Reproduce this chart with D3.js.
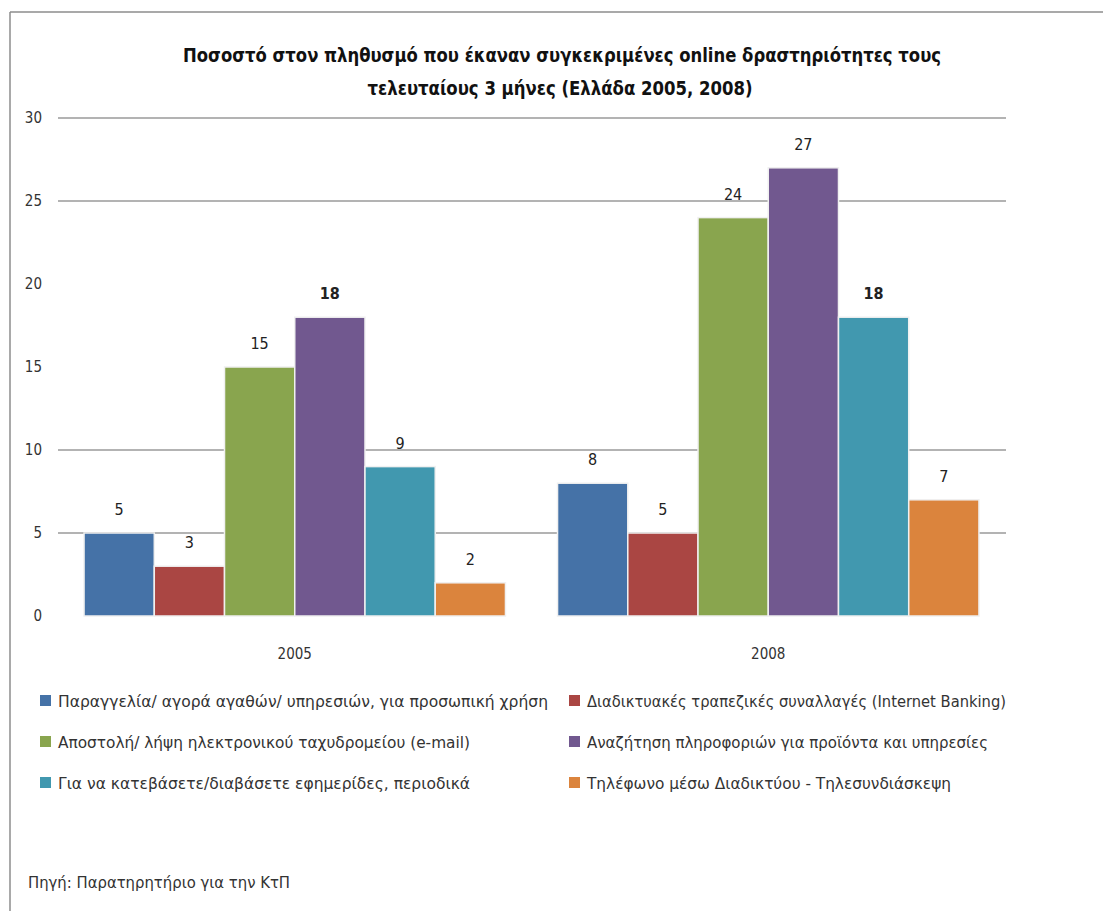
<!DOCTYPE html>
<html>
<head>
<meta charset="utf-8">
<script src="https://cdn.jsdelivr.net/npm/d3@7"></script>
<style>
  body { margin: 0; background: #fff; }
  text { font-family: "Liberation Sans Narrow", "DejaVu Sans Condensed", "Open Sans", sans-serif; }
</style>
</head>
<body>
<div id="chart"></div>
<script>
// Data
const years = ['2005', '2008'];
const seriesNames = [
    'Παραγγελία/ αγορά αγαθών/ υπηρεσιών, για προσωπική χρήση',
    'Διαδικτυακές τραπεζικές συναλλαγές (Internet Banking)',
    'Αποστολή/ λήψη ηλεκτρονικού ταχυδρομείου (e-mail)',
    'Αναζήτηση πληροφοριών για προϊόντα και υπηρεσίες',
    'Για να κατεβάσετε/διαβάσετε εφημερίδες, περιοδικά',
    'Τηλέφωνο μέσω Διαδικτύου - Τηλεσυνδιάσκεψη'
];
const values2005 = [5, 3, 15, 18, 9, 2];
const values2008 = [8, 5, 24, 27, 18, 7];
const colors = ['#4572A7', '#AA4643', '#89A54E', '#71588F', '#4198AF', '#DB843D'];
const yTicks = [0, 5, 10, 15, 20, 25, 30];
const gridTicks = [5, 10, 25, 30]; // only these lines show in the picture
const boldLabels = [['2005', 3], ['2008', 4]];

const W = 1103, H = 911;
const svg = d3.select('#chart').append('svg').attr('width', W).attr('height', H);

// Chart frame: top and left edges only are visible.
svg.append('line').attr('x1', 10).attr('y1', 12).attr('x2', W).attr('y2', 12)
    .attr('stroke', '#8c8c8c').attr('stroke-width', 1.5);
svg.append('line').attr('x1', 10).attr('y1', 12).attr('x2', 10).attr('y2', H)
    .attr('stroke', '#8c8c8c').attr('stroke-width', 1.5);

// Title
const title = svg.append('g').attr('font-weight', 'bold').attr('font-size', 20).attr('fill', '#111');
title.append('text').attr('x', 562).attr('y', 62).attr('text-anchor', 'middle')
    .attr('textLength', 758).attr('lengthAdjust', 'spacingAndGlyphs')
    .text('Ποσοστό στον πληθυσμό που έκαναν συγκεκριμένες online δραστηριότητες τους');
title.append('text').attr('x', 560).attr('y', 95).attr('text-anchor', 'middle')
    .attr('textLength', 385).attr('lengthAdjust', 'spacingAndGlyphs')
    .text('τελευταίους 3 μήνες (Ελλάδα 2005, 2008)');

// Scales
const y = d3.scaleLinear().domain([0, 30]).range([616, 118]);
const x0 = d3.scaleBand().domain(years).range([58, 1005]).paddingInner(0.11).paddingOuter(0.055);
const x1 = d3.scaleBand().domain(d3.range(seriesNames.length)).range([0, x0.bandwidth()]);

// Gridlines
svg.append('g').selectAll('line').data(gridTicks).join('line')
    .attr('x1', 58).attr('x2', 1006)
    .attr('y1', d => y(d)).attr('y2', d => y(d))
    .attr('stroke', '#9a9a9a').attr('stroke-width', 1.5);

// Y axis labels
const yAxis = svg.append('g').attr('transform', 'translate(42,0)')
    .call(d3.axisLeft(y).tickValues(yTicks).tickSize(0).tickPadding(0));
yAxis.select('.domain').remove();
yAxis.selectAll('text').attr('font-size', 15).attr('fill', '#333')
    .style('font-family', '"Liberation Sans Narrow", "DejaVu Sans Condensed", sans-serif');

// X axis labels
const xAxis = svg.append('g').attr('transform', 'translate(0,648)')
    .call(d3.axisBottom(x0).tickSize(0).tickPadding(0));
xAxis.select('.domain').remove();
xAxis.selectAll('text').attr('font-size', 15).attr('fill', '#333')
    .style('font-family', '"Liberation Sans Narrow", "DejaVu Sans Condensed", sans-serif');

// Bars
const rows = years.map((yr, i) => ({
    year: yr,
    values: (i === 0 ? values2005 : values2008).map((v, k) => ({ year: yr, k, v }))
}));

const groups = svg.append('g').selectAll('g').data(rows).join('g')
    .attr('transform', d => `translate(${x0(d.year)},0)`);

groups.selectAll('rect').data(d => d.values).join('rect')
    .attr('x', d => x1(d.k))
    .attr('y', d => y(d.v))
    .attr('width', x1.bandwidth())
    .attr('height', d => y(0) - y(d.v))
    .attr('fill', d => colors[d.k])
    .attr('stroke', '#f0f0f0').attr('stroke-width', 1.5);

groups.selectAll('text').data(d => d.values).join('text')
    .attr('x', d => x1(d.k) + x1.bandwidth() / 2)
    .attr('y', d => y(d.v) - 18)
    .attr('text-anchor', 'middle')
    .attr('font-size', 16)
    .attr('fill', '#222')
    .attr('font-weight', d => boldLabels.some(b => b[0] === d.year && b[1] === d.k) ? 'bold' : 'normal')
    .text(d => d.v);

// Legend: two columns, three rows
const legendWidths = [490, 419, 412, 401, 412, 364];
const legend = svg.append('g');
const items = legend.selectAll('g').data(seriesNames).join('g')
    .attr('transform', (d, i) => `translate(${i % 2 === 0 ? 40 : 569},${701 + Math.floor(i / 2) * 41})`);
items.append('rect').attr('x', 0).attr('y', -6).attr('width', 11).attr('height', 11)
    .attr('fill', (d, i) => colors[i]);
items.append('text').attr('x', 18).attr('y', 6)
    .attr('font-size', 16).attr('fill', '#333')
    .attr('textLength', (d, i) => legendWidths[i]).attr('lengthAdjust', 'spacingAndGlyphs')
    .text(d => d);

// Source note
svg.append('text').attr('x', 28).attr('y', 888)
    .attr('font-size', 15).attr('fill', '#333')
    .attr('textLength', 262).attr('lengthAdjust', 'spacingAndGlyphs')
    .text('Πηγή: Παρατηρητήριο για την ΚτΠ');
</script>
</body>
</html>
